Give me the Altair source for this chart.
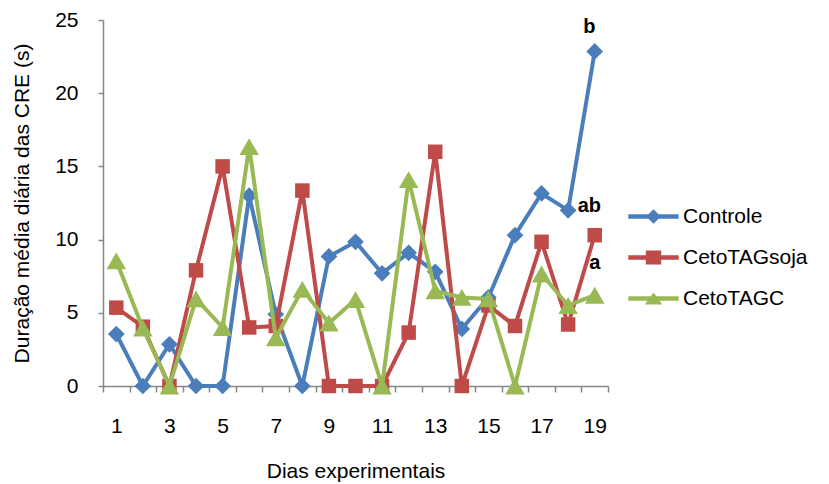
import altair as alt
import pandas as pd

# ---- data ----
days = list(range(1, 20))
controle = [3.55, 0, 2.85, 0, 0, 13.0, 4.9, 0, 8.85, 9.85, 7.7, 9.1, 7.8, 3.9, 6.05, 10.3, 13.15, 12.0, 22.85]
ceto_soja = [5.35, 4.05, 0, 7.9, 15.0, 4.0, 4.1, 13.35, 0, 0, 0, 3.65, 16.0, 0, 5.5, 4.1, 9.85, 4.2, 10.3]
ceto_c = [8.55, 3.95, 0, 5.95, 4.0, 16.35, 3.3, 6.6, 4.3, 5.9, 0, 14.1, 6.5, 6.05, 5.95, 0, 7.65, 5.5, 6.2]
series_names = ["Controle", "CetoTAGsoja", "CetoTAGC"]
x_tick_labels = ["1", "3", "5", "7", "9", "11", "13", "15", "17", "19"]
y_ticks = [0, 5, 10, 15, 20, 25]
ann_labels = ["b", "ab", "a"]
ann_days = [18.8, 18.8, 19.0]
ann_values = [24.5, 12.3, 8.4]

# ---- styling ----
FONT = "Liberation Sans"
colors = ["#4A7EBB", "#BE4B48", "#98B954"]
marker_shapes = ["diamond", "square", "triangle-up"]
marker_sizes = [280, 210, 380]
legend_paths = [
    "M-3.6,-0.32H3.6V0.32H-3.6Z M0,-1.05L1.05,0L0,1.05L-1.05,0Z",
    "M-3.6,-0.32H3.6V0.32H-3.6Z M-1.1,-1.0H1.1V1.0H-1.1Z",
    "M-3.6,-0.32H3.6V0.32H-3.6Z M0,-0.85L1.25,0.85H-1.25Z",
]

rows = []
for name, vals in zip(series_names, [controle, ceto_soja, ceto_c]):
    for d, v in zip(days, vals):
        rows.append({"Dia": d, "Valor": v, "Serie": name})
df = pd.DataFrame(rows)
ann = pd.DataFrame({"Dia": ann_days, "Valor": ann_values, "txt": ann_labels})

W, H = 505, 366
half_step = W / 19 / 2

x_vals = [i + 0.5 for i in range(0, 20)]
label_expr = "((datum.value - 0.5) % 2 == 0) ? ('' + (datum.value + 0.5)) : ''"

x_enc = alt.X(
    "Dia:Q",
    scale=alt.Scale(domain=[0.5, 19.5], nice=False, zero=False),
    axis=alt.Axis(
        title="Dias experimentais",
        values=x_vals,
        labelExpr=label_expr,
        labelOffset=half_step,
        labelFlush=False,
        labelOverlap=False,
        grid=False,
        tickSize=6,
        labelPadding=23,
        titlePadding=24,
    ),
)
y_enc = alt.Y(
    "Valor:Q",
    scale=alt.Scale(domain=[0, 25], nice=False),
    axis=alt.Axis(
        title="Duração média diária das CRE (s)",
        values=y_ticks,
        grid=False,
        tickSize=5,
        labelPadding=20,
        titlePadding=22,
    ),
)

layers = []
for i, name in enumerate(series_names):
    sub = alt.Chart(df).transform_filter(alt.datum.Serie == name)
    layers.append(
        sub.mark_line(strokeWidth=4, color=colors[i]).encode(x=x_enc, y=y_enc)
    )
    layers.append(
        sub.mark_point(
            filled=True, shape=marker_shapes[i], size=marker_sizes[i],
            color=colors[i], opacity=1, strokeWidth=0
        ).encode(x=x_enc, y=y_enc)
    )

legend_layer = (
    alt.Chart(df)
    .transform_filter("false")
    .mark_point(filled=True, opacity=1)
    .encode(
        x=x_enc,
        y=y_enc,
        color=alt.Color(
            "Serie:N",
            scale=alt.Scale(domain=series_names, range=colors),
            legend=alt.Legend(
                title=None,
                orient="none",
                legendX=540,
                legendY=186,
                labelFont=FONT,
                labelFontSize=21,
                labelColor="#000000",
                labelOffset=19,
                rowPadding=19,
                symbolSize=196,
                symbolStrokeWidth=0,
                symbolOpacity=1,
                padding=0,
            ),
        ),
        shape=alt.Shape(
            "Serie:N",
            scale=alt.Scale(domain=series_names, range=legend_paths),
        ),
    )
)

text_layer = alt.Chart(ann).mark_text(
    font=FONT, fontSize=20, fontWeight="bold", color="#000000", baseline="middle", align="center"
).encode(x=x_enc, y=y_enc, text="txt:N")

chart = (
    alt.layer(*layers, legend_layer, text_layer)
    .properties(
        width=W,
        height=H,
        padding={"left": 3, "top": 1, "right": 5, "bottom": 5},
    )
    .configure_view(stroke=None)
    .configure_axis(
        labelFont=FONT,
        titleFont=FONT,
        labelFontSize=21,
        titleFontSize=21,
        titleFontWeight="normal",
        labelColor="#000000",
        titleColor="#000000",
        domainColor="#868686",
        tickColor="#868686",
        domainWidth=1.5,
        tickWidth=1.5,
    )
)

chart.save("out.html", embed_options={"renderer": "svg", "actions": False})
